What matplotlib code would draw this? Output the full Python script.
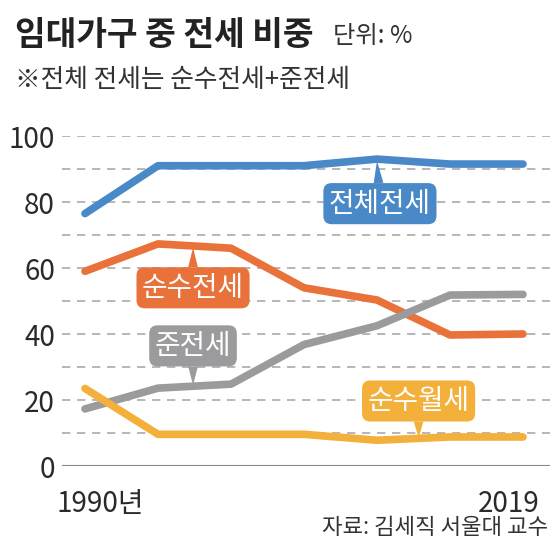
import matplotlib.pyplot as plt

plt.rcParams['font.family'] = ['Noto Sans CJK KR', 'DejaVu Sans']

# census points, drawn evenly spaced
years = ['1990', '1995', '2000', '2005', '2010', '2015', '2019']
total_jeonse = [76.5, 91, 91, 91, 93, 91.5, 91.5]
pure_jeonse = [59, 67.3, 66, 54, 50.3, 39.7, 40]
semi_jeonse = [17.3, 23.6, 24.8, 36.8, 42.5, 51.8, 52]
pure_wolse = [23.5, 9.6, 9.6, 9.6, 7.8, 8.8, 8.8]

yticks = [0, 20, 40, 60, 80, 100]

c_blue = '#4a89c8'
c_orange = '#e8723a'
c_gray = '#9b9b9d'
c_yellow = '#f3b03a'

fig = plt.figure(figsize=(5.6, 5.59), dpi=100)
W, H = 560, 559
ax = fig.add_axes([62 / W, (H - 466) / H, (550 - 62) / W, (466 - 136) / H])

x = list(range(len(years)))
ax.set_xlim((62 - 85) / 73, (550 - 85) / 73)
ax.set_ylim(0, 100)

# dashed grid every 10
for g in range(10, 101, 10):
    ax.axhline(g, color='#aaaaaa', lw=1.2, dashes=(5, 4), zorder=1)
ax.axhline(0, color='#888888', lw=1.5, zorder=1)

series = [(total_jeonse, c_blue), (pure_jeonse, c_orange),
          (semi_jeonse, c_gray), (pure_wolse, c_yellow)]
for vals, col in series:
    ax.plot(x, vals, color=col, lw=5.5, solid_capstyle='round',
            solid_joinstyle='round', clip_on=False, zorder=3)

for s in ax.spines.values():
    s.set_visible(False)
ax.set_xticks([])
ax.set_yticks(yticks)
ax.set_yticklabels([str(t) for t in yticks], fontsize=20, color='#2a2a2a',
                   fontweight='light')
ax.tick_params(axis='y', length=0, pad=5)

ax.annotate('1990년', xy=(0, 0), xytext=(11, -27), textcoords='offset points',
            ha='center', va='center', fontsize=20, color='#2a2a2a',
            fontweight='light')
ax.annotate('2019', xy=(6, 0), xytext=(-10, -27), textcoords='offset points',
            ha='center', va='center', fontsize=20, color='#2a2a2a',
            fontweight='light')

# callout labels
labels = [
    ('전체전세', (4.04, 79.5), (4.0, 92.5), c_blue),
    ('순수전세', (1.48, 54), (1.48, 66.2), c_orange),
    ('준전세', (1.48, 36.4), (1.48, 24.5), c_gray),
    ('순수월세', (4.57, 19.7), (4.57, 8.6), c_yellow),
]
for txt, pos, tip, col in labels:
    ax.annotate(txt, xy=tip, xytext=pos, ha='center', va='center',
                fontsize=20, color='white', zorder=5,
                bbox=dict(boxstyle='round,pad=0.2,rounding_size=0.3',
                          fc=col, ec='none'),
                arrowprops=dict(arrowstyle='wedge,tail_width=0.35',
                                fc=col, ec='none', shrinkA=0, shrinkB=0))

fig.text(15 / W, 1 - 36 / H, '임대가구 중 전세 비중', fontsize=24,
         fontweight='bold', color='#222222', va='center', ha='left')
fig.text(333 / W, 1 - 36 / H, '단위: %', fontsize=17.5,
         color='#333333', va='center', ha='left', fontweight='light')
fig.text(15 / W, 1 - 80 / H, '※전체 전세는 순수전세+준전세', fontsize=18.5,
         color='#333333', va='center', ha='left', fontweight='light')
fig.text(548 / W, 1 - 527 / H, '자료: 김세직 서울대 교수', fontsize=16,
         color='#333333', va='center', ha='right', fontweight='light')

fig.savefig('out.png', dpi=100, facecolor='white')
